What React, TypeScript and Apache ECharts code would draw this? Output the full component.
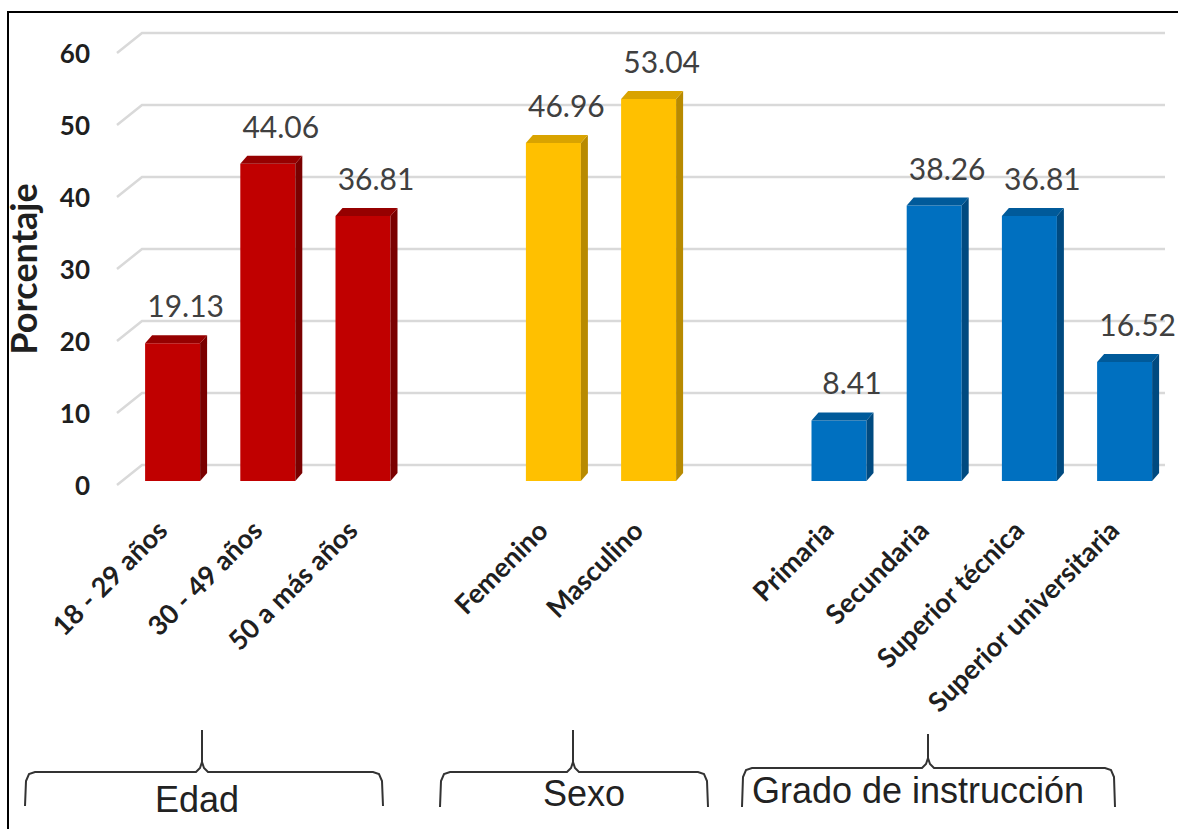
import React, { useEffect, useRef } from "react";
import * as echarts from "echarts";

const edadCats = ["18 - 29 años", "30 - 49 años", "50 a más años"];
const edadVals = [19.13, 44.06, 36.81];
const sexoCats = ["Femenino", "Masculino"];
const sexoVals = [46.96, 53.04];
const gradoCats = ["Primaria", "Secundaria", "Superior técnica", "Superior universitaria"];
const gradoVals = [8.41, 38.26, 36.81, 16.52];
const yTicks = [0, 10, 20, 30, 40, 50, 60];
const groupNames = ["Edad", "Sexo", "Grado de instrucción"];

const categories = [...edadCats, " ", ...sexoCats, "  ", ...gradoCats];
const sexoStart = edadCats.length + 1;
const gradoStart = sexoStart + sexoCats.length + 1;

const BAR_W = 55;
const SHIFT_X = 11;
const DX = 7;
const DY = 8;

function makeBarRender(front: string, side: string, top: string) {
  return (params: any, api: any) => {
    const xi = api.value(0);
    const v = api.value(1);
    const pTop = api.coord([xi, v]);
    const pBase = api.coord([xi, 0]);
    const cx = pTop[0] + SHIFT_X;
    const x = cx - BAR_W / 2;
    const t = pTop[1] - 4;
    const b = pBase[1] - 4;
    return {
      type: "group",
      children: [
        { type: "rect", shape: { x, y: t, width: BAR_W, height: b - t }, style: { fill: front } },
        {
          type: "polygon",
          shape: { points: [[x + BAR_W, t], [x + BAR_W + DX, t - DY], [x + BAR_W + DX, b - DY], [x + BAR_W, b]] },
          style: { fill: side },
        },
        {
          type: "polygon",
          shape: { points: [[x, t], [x + DX, t - DY], [x + BAR_W + DX, t - DY], [x + BAR_W, t]] },
          style: { fill: top },
        },
        {
          type: "text",
          style: {
            text: Number(v).toFixed(2),
            x: cx + 13,
            y: t - 38,
            align: "center",
            verticalAlign: "middle",
            fontSize: 30,
            fontFamily: "Lato",
            fill: "#404040",
          },
        },
      ],
    };
  };
}

function brace(x1: number, xm: number, x2: number, yTop: number, yH: number, yBot: number) {
  return {
    type: "polyline",
    shape: {
      points: [
        [x1, yBot], [x1 + 1, yH + 9], [x1 + 4, yH + 2], [x1 + 10, yH],
        [xm - 6, yH], [xm - 2, yH - 4], [xm, yH - 10], [xm, yTop], [xm, yH - 10],
        [xm + 2, yH - 4], [xm + 6, yH], [x2 - 10, yH], [x2 - 4, yH + 2], [x2 - 1, yH + 9], [x2, yBot],
      ],
    },
    style: { stroke: "#333333", lineWidth: 2, fill: "none" },
  };
}

export default function App() {
  const ref = useRef<HTMLDivElement>(null);
  useEffect(() => {
    if (!ref.current) return;
    const chart = echarts.init(ref.current, undefined, { renderer: "svg" });
    const option: any = {
      animation: false,
      backgroundColor: "#ffffff",
      grid: { left: 114, top: 53, right: 16.8, bottom: 344, containLabel: false, outerBoundsMode: "none" },
      xAxis: {
        type: "category",
        data: categories,
        axisLine: { show: false },
        axisTick: { show: false },
        axisLabel: {
          interval: 0,
          rotate: 45,
          margin: 40,
          fontSize: 27,
          fontWeight: "bold",
          fontFamily: "Lato",
          color: "#1f1f1f",
        },
      },
      yAxis: {
        type: "value",
        min: 0,
        max: 60,
        interval: 10,
        name: "Porcentaje",
        nameLocation: "middle",
        nameRotate: 90,
        nameGap: 73,
        nameTextStyle: { fontSize: 36, fontWeight: "bold", fontFamily: "Lato", color: "#1f1f1f" },
        axisLine: { show: false },
        axisTick: { show: false },
        splitLine: { show: false },
        axisLabel: { margin: 24, fontSize: 26, fontWeight: "bold", fontFamily: "Lato", color: "#1f1f1f" },
      },
      series: [
        {
          type: "custom",
          z: 1,
          data: yTicks.map((v) => [0, v]),
          renderItem: (params: any, api: any) => {
            const y = api.coord([0, api.value(1)])[1];
            const x0 = params.coordSys.x;
            return {
              type: "polyline",
              shape: { points: [[x0 + 3, y], [x0 + 28, y - 20], [1165, y - 20]] },
              style: { stroke: "#d9d9d9", lineWidth: 2.5, fill: "none" },
            };
          },
        },
        {
          type: "custom",
          z: 5,
          data: edadVals.map((v, i) => [i, v]),
          renderItem: makeBarRender("#C00000", "#7A0000", "#960000"),
        },
        {
          type: "custom",
          z: 5,
          data: sexoVals.map((v, i) => [sexoStart + i, v]),
          renderItem: makeBarRender("#FFC000", "#B88A00", "#D9A300"),
        },
        {
          type: "custom",
          z: 5,
          data: gradoVals.map((v, i) => [gradoStart + i, v]),
          renderItem: makeBarRender("#0070C0", "#004A80", "#005A9A"),
        },
      ],
      graphic: [
        { type: "rect", shape: { x: 8, y: 12, width: 1200, height: 840 }, style: { fill: "none", stroke: "#000000", lineWidth: 2 }, z: 100 },
        brace(25, 202, 383, 730, 772, 806),
        brace(440, 573, 708, 730, 772, 807),
        brace(742, 928, 1115, 734, 768, 807),
        { type: "text", style: { text: groupNames[0], x: 197, y: 799, align: "center", verticalAlign: "middle", fontSize: 36, fontFamily: "Liberation Sans", fill: "#222222" } },
        { type: "text", style: { text: groupNames[1], x: 584, y: 793, align: "center", verticalAlign: "middle", fontSize: 36, fontFamily: "Liberation Sans", fill: "#222222" } },
        { type: "text", style: { text: groupNames[2], x: 918, y: 790, align: "center", verticalAlign: "middle", fontSize: 36, fontFamily: "Liberation Sans", fill: "#222222" } },
      ],
    };
    chart.setOption(option);
    return () => chart.dispose();
  }, []);
  return <div ref={ref} style={{ position: "fixed", left: 0, top: 0, width: 1178, height: 829 }} />;
}
